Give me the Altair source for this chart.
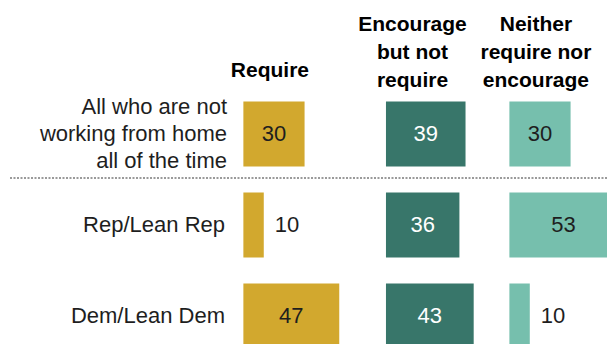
import altair as alt
import pandas as pd

# ---- data ----
group_keys = ["all", "rep", "dem"]
group_labels = ["All who are not\nworking from home\nall of the time", "Rep/Lean Rep", "Dem/Lean Dem"]
label_lines = [3, 1, 1]
columns = ["Require", "Encourage", "Neither"]
headers = ["Require", "Encourage\nbut not\nrequire", "Neither\nrequire nor\nencourage"]
require = [30, 10, 47]
encourage = [39, 36, 43]
neither = [30, 53, 10]

# ---- layout / style ----
W, H = 607, 344
PX_PER_UNIT = 2.04
col_start = {"Require": 119.3, "Encourage": 189.2, "Neither": 249.7}
colors = ["#D2A82E", "#38766A", "#76BFAD"]
FONT = "Liberation Sans"
TXT = "#1e1e1e"
LH = 27

rows = []
for col, vals in zip(columns, [require, encourage, neither]):
    for g, v in zip(group_keys, vals):
        rows.append({"grp": g, "col": col, "value": v, "start": col_start[col]})
df = pd.DataFrame(rows)

lab_df = pd.DataFrame({"grp": group_keys, "label": group_labels, "lines": label_lines})
hdr_df = pd.DataFrame({"col": columns, "header": headers,
                       "hx": [col_start[c] + 13 for c in columns]})

xscale = alt.Scale(domain=[0, W / PX_PER_UNIT], range=[0, W], nice=False, zero=False)
yscale = alt.Scale(domain=group_keys, range=[88.5, 361.5], paddingInner=0.286, paddingOuter=0.143)

base = alt.Chart(df).transform_calculate(
    x0="datum.start",
    x1="datum.start + datum.value",
    mid="datum.start + datum.value / 2",
    outx="datum.start + datum.value + 5.4",
)

bars = base.mark_bar(clip=True).encode(
    x=alt.X("x0:Q", scale=xscale, axis=None),
    x2="x1:Q",
    y=alt.Y("grp:N", scale=yscale, axis=None),
    color=alt.Color("col:N", scale=alt.Scale(domain=columns, range=colors), legend=None),
)

inside = base.transform_filter("datum.value >= 15").mark_text(
    font=FONT, fontSize=22, align="center", baseline="middle", clip=True
).encode(
    x=alt.X("mid:Q", scale=xscale, axis=None),
    y=alt.Y("grp:N", scale=yscale, axis=None),
    text="value:Q",
    color=alt.condition("datum.col == 'Encourage'", alt.value("#ffffff"), alt.value(TXT)),
)

outside = base.transform_filter("datum.value < 15").mark_text(
    font=FONT, fontSize=22, align="left", baseline="middle", color=TXT
).encode(
    x=alt.X("outx:Q", scale=xscale, axis=None),
    y=alt.Y("grp:N", scale=yscale, axis=None),
    text="value:Q",
)

labels_single = alt.Chart(lab_df).transform_filter("datum.lines == 1").mark_text(
    font=FONT, fontSize=22, align="right", baseline="middle", color=TXT,
).encode(
    x=alt.value(225),
    y=alt.Y("grp:N", scale=yscale, axis=None),
    text="label:N",
)

labels_multi = alt.Chart(lab_df).transform_filter("datum.lines == 3").mark_text(
    font=FONT, fontSize=22, align="right", baseline="middle", color=TXT,
    lineBreak="\n", lineHeight=LH, dy=-LH,
).encode(
    x=alt.value(227),
    y=alt.Y("grp:N", scale=yscale, axis=None),
    text="label:N",
)

hdr_req = alt.Chart(hdr_df).transform_filter("datum.col == 'Require'").mark_text(
    font=FONT, fontSize=21, fontWeight="bold", align="center", baseline="alphabetic",
    color="#000000", lineBreak="\n", lineHeight=28,
).encode(
    x=alt.X("hx:Q", scale=xscale, axis=None),
    y=alt.value(77),
    text="header:N",
)

hdr_other = alt.Chart(hdr_df).transform_filter("datum.col != 'Require'").mark_text(
    font=FONT, fontSize=21, fontWeight="bold", align="center", baseline="alphabetic",
    color="#000000", lineBreak="\n", lineHeight=28,
).encode(
    x=alt.X("hx:Q", scale=xscale, axis=None),
    y=alt.value(31),
    text="header:N",
)

sep = alt.Chart(pd.DataFrame({"a": [0]})).mark_rule(
    color="#9a9a9a", strokeWidth=2, strokeDash=[2, 1.5]
).encode(
    x=alt.value(10), x2=alt.value(W), y=alt.value(178),
)

chart = alt.layer(sep, bars, inside, outside, labels_single, labels_multi, hdr_req, hdr_other).properties(
    width=W, height=H, padding=0, autosize=alt.AutoSizeParams(type="none"),
).configure_view(stroke=None)

chart.save("out.html", embed_options={"renderer": "svg", "actions": False})
